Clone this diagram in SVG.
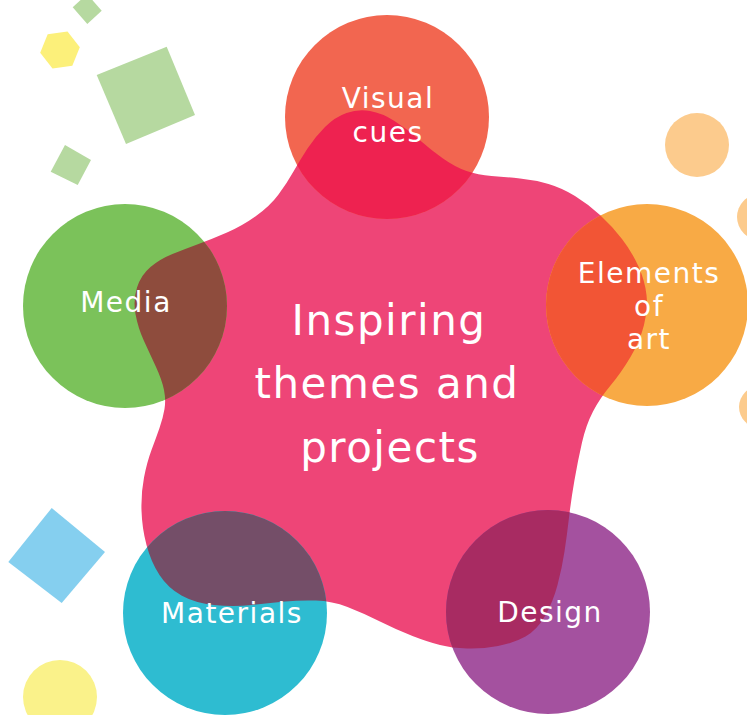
<svg xmlns="http://www.w3.org/2000/svg" xmlns:xlink="http://www.w3.org/1999/xlink" width="747" height="715" viewBox="0 0 747 715">
  <style>
    .lbl { font-family: "DejaVu Sans", "Liberation Sans", sans-serif; fill: #ffffff; text-anchor: middle; font-size: 28px; letter-spacing: 1.5px; }
    .big { font-size: 42px; letter-spacing: 1.5px; }
    .deco-g { fill: #b6d9a0; }
  </style>
  <defs>
    <path id="blobPath" d="M 293.5,171.5 Q 300,160 307.5,148.5 Q 315,137 325,127 Q 335,117 346.5,113 Q 358,109 370,111 Q 382,113 394.5,121 Q 407,129 419,139.5 Q 431,150 443,158.5 Q 455,167 466.5,171 Q 478,175 491.5,176 Q 505,177 520,178.5 Q 535,180 548.5,184 Q 562,188 575,196 Q 588,204 600,215 Q 612,226 622,239 Q 632,252 638.5,266.5 Q 645,281 646.5,295 Q 648,309 644,325 Q 640,341 630.5,357 Q 621,373 610.5,385.5 Q 600,398 593,411.5 Q 586,425 582,442.5 Q 578,460 574.5,480 Q 571,500 569,517.5 Q 567,535 564.5,551.5 Q 562,568 557.5,585 Q 553,602 545,616 Q 537,630 525.5,636.5 Q 514,643 498,646 Q 482,649 467,648.5 Q 452,648 440,645 Q 428,642 412.5,636 Q 397,630 380,621.5 Q 363,613 347.5,607 Q 332,601 316,600.5 Q 300,600 285,601.5 Q 270,603 251.5,605 Q 233,607 214,605 Q 195,603 181.5,595.5 Q 168,588 159.5,575 Q 151,562 146.5,545 Q 142,528 141.5,510.5 Q 141,493 144,477.5 Q 147,462 151.5,450 Q 156,438 159.5,428 Q 163,418 164.5,409 Q 166,400 164,390 Q 162,380 156,367 Q 150,354 144,341 Q 138,328 135.5,314 Q 133,300 137,287.5 Q 141,275 150.5,267 Q 160,259 172.5,254 Q 185,249 198.5,244 Q 212,239 227,232.5 Q 242,226 256,216 Q 270,206 278.5,194.5 Q 287,183 293.5,171.5 Z"/>
    <clipPath id="blobClip"><use xlink:href="#blobPath"/></clipPath>
  </defs>

  <g id="decorations">
    <polygon class="deco-g" points="72.7,7.3 87.1,-6 101.7,10.7 87.3,24"/>
    <polygon fill="#fcf07a" points="79.8,47.2 72.3,65.8 52.5,68.5 40.2,52.8 47.7,34.2 67.5,31.5"/>
    <polygon class="deco-g" points="96.7,75 166.7,46.7 195,115 126,144"/>
    <polygon class="deco-g" points="65,145 91,160 77.7,185 50.7,171.7"/>
    <circle cx="697" cy="145" r="32" fill="#fccb8d"/>
    <circle cx="760" cy="217" r="23" fill="#fccb8d"/>
    <circle cx="760" cy="407" r="21" fill="#fccb8d"/>
    <polygon fill="#85cfef" points="51.7,508 105,552 61.7,603 8.3,562"/>
    <circle cx="60" cy="697" r="37" fill="#faf28a"/>
  </g>

  <g id="center">
    <use xlink:href="#blobPath" fill="#ee4577"/>
  </g>

  <g id="visual-cues">
    <circle cx="387" cy="117" r="102" fill="#f26650"/>
    <circle cx="387" cy="117" r="102" fill="#ee2250" clip-path="url(#blobClip)"/>
    <text class="lbl" x="388" y="108">Visual</text>
    <text class="lbl" x="388" y="142">cues</text>
  </g>

  <g id="media">
    <circle cx="125" cy="306" r="102" fill="#7bc25a"/>
    <circle cx="125" cy="306" r="102" fill="#8e4c3d" clip-path="url(#blobClip)"/>
    <text class="lbl" x="126" y="312">Media</text>
  </g>

  <g id="elements-of-art">
    <circle cx="647" cy="305" r="101" fill="#f8aa45"/>
    <circle cx="647" cy="305" r="101" fill="#f25535" clip-path="url(#blobClip)"/>
    <text class="lbl" x="649" y="283">Elements</text>
    <text class="lbl" x="649" y="316">of</text>
    <text class="lbl" x="649" y="349">art</text>
  </g>

  <g id="materials">
    <circle cx="225" cy="613" r="102" fill="#2ebcd1"/>
    <circle cx="225" cy="613" r="102" fill="#744e68" clip-path="url(#blobClip)"/>
    <text class="lbl" x="232" y="623">Materials</text>
  </g>

  <g id="design">
    <circle cx="548" cy="612" r="102" fill="#a4519f"/>
    <circle cx="548" cy="612" r="102" fill="#a82b62" clip-path="url(#blobClip)"/>
    <text class="lbl" x="550" y="622">Design</text>
  </g>

  <g id="center-label">
    <text class="lbl big" x="389" y="335">Inspiring</text>
    <text class="lbl big" x="387" y="398">themes and</text>
    <text class="lbl big" x="390" y="462">projects</text>
  </g>
</svg>
